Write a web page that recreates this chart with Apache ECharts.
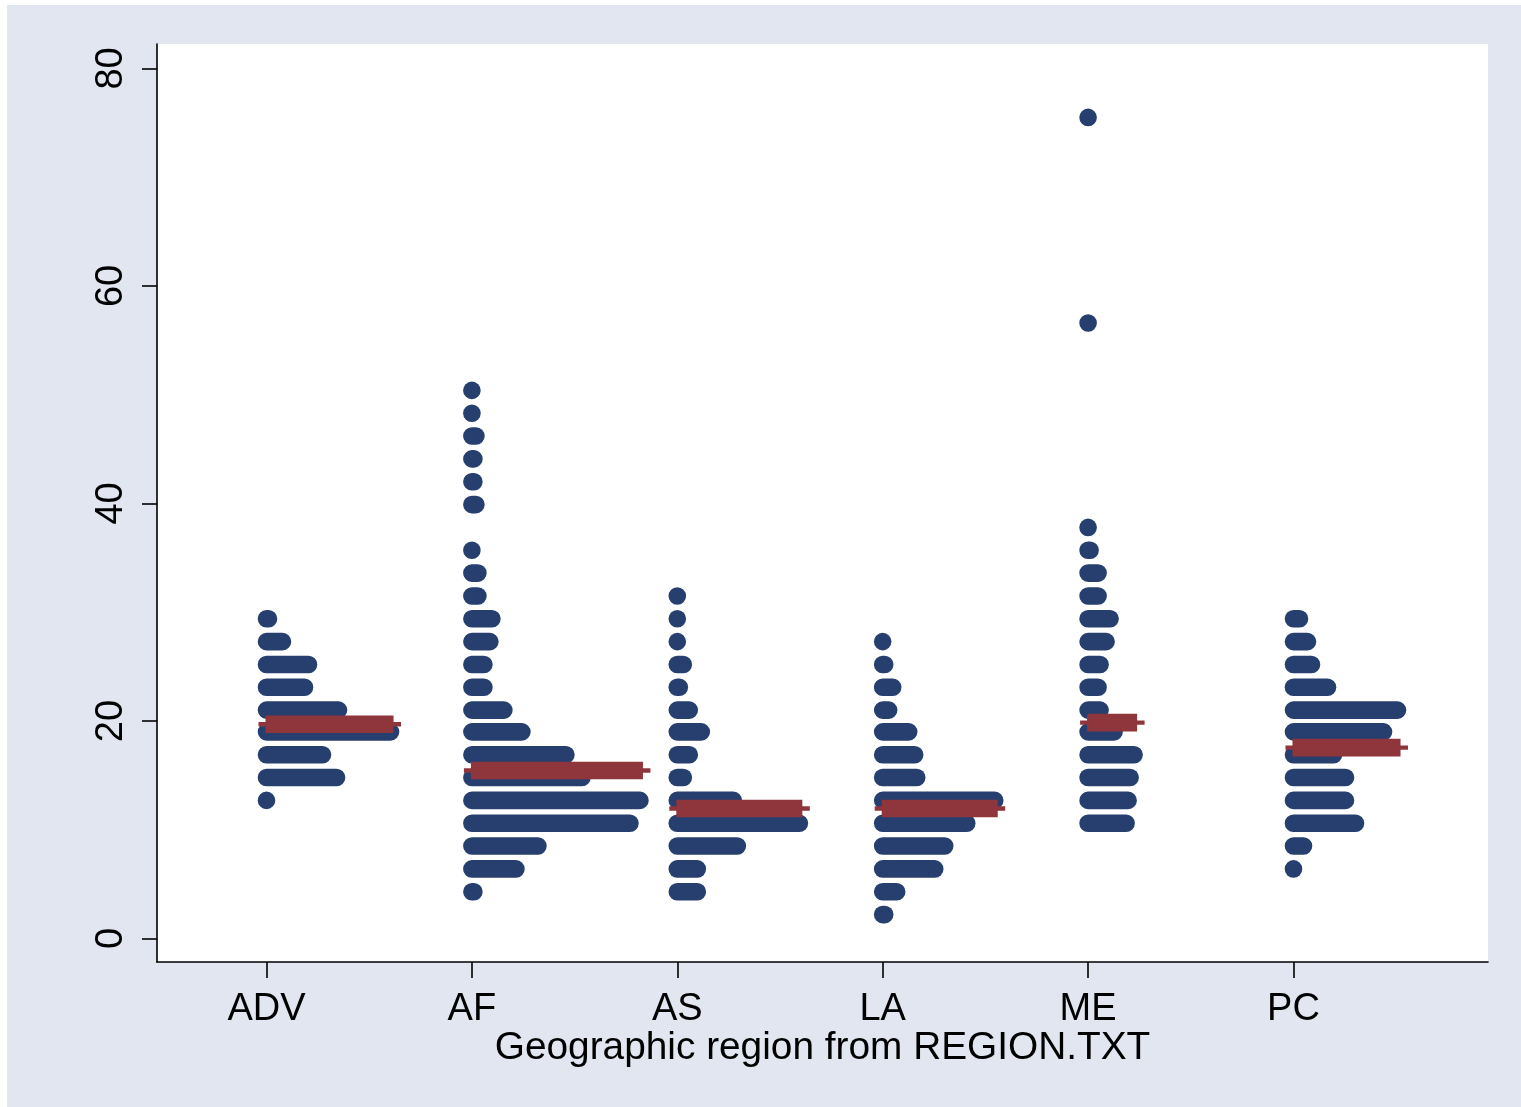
<!DOCTYPE html>
<html>
<head>
<meta charset="utf-8">
<script src="https://cdn.jsdelivr.net/npm/echarts@6/dist/echarts.min.js"></script>
<style>
  html, body { margin: 0; padding: 0; background: #ffffff; }
  #chart { position: absolute; left: 7px; top: 5px; width: 1514px; height: 1102px; }
</style>
</head>
<body>
<div id="chart"></div>
<script>
// ---- data ----
const categories = ['ADV', 'AF', 'AS', 'LA', 'ME', 'PC'];
const yTicks = [0, 20, 40, 60, 80];
const xTitle = 'Geographic region from REGION.TXT';

// dot rows: bin value and number of dots in that bin
const advValues = [12.7, 14.8, 16.9, 19.0, 21.0, 23.1, 25.2, 27.3, 29.4];
const advCounts = [1, 36, 29, 63, 37, 20, 22, 9, 2];

const afValues = [4.3, 6.4, 8.5, 10.6, 12.7, 14.8, 16.9, 19.0, 21.0, 23.1, 25.2, 27.3, 29.4, 31.5, 33.6, 35.7, 39.9, 42.0, 44.1, 46.2, 48.3, 50.4];
const afCounts = [2, 23, 34, 80, 85, 56, 48, 26, 17, 7, 7, 10, 11, 4, 4, 1, 3, 2, 2, 3, 1, 1];

const asValues = [4.3, 6.4, 8.5, 10.6, 12.7, 14.8, 16.9, 19.0, 21.0, 23.1, 25.2, 27.3, 29.4, 31.5];
const asCounts = [11, 11, 31, 62, 29, 4, 7, 13, 7, 2, 4, 1, 1, 1];

const laValues = [2.2, 4.3, 6.4, 8.5, 10.6, 12.7, 14.8, 16.9, 19.0, 21.0, 23.1, 25.2, 27.3];
const laCounts = [2, 8, 27, 32, 43, 57, 18, 17, 14, 4, 6, 2, 1];

const meValues = [10.6, 12.7, 14.8, 16.9, 19.0, 21.0, 23.1, 25.2, 27.3, 29.4, 31.5, 33.6, 35.7, 37.8, 56.6, 75.5];
const meCounts = [20, 21, 22, 24, 14, 7, 6, 7, 10, 12, 6, 6, 2, 1, 1, 1];

const pcValues = [6.4, 8.5, 10.6, 12.7, 14.8, 16.9, 19.0, 21.0, 23.1, 25.2, 27.3, 29.4];
const pcCounts = [1, 6, 32, 27, 27, 21, 46, 53, 18, 10, 8, 4];

// median of each region
const medians = [19.7, 15.45, 11.95, 11.95, 19.85, 17.55];

// ---- build ----
const groups = [
  [advValues, advCounts], [afValues, afCounts], [asValues, asCounts],
  [laValues, laCounts], [meValues, meCounts], [pcValues, pcCounts]
];
const STEP = 0.00974;   // x-axis units between stacked dots
const R = 8.8;          // dot radius (px)
const NAVY = '#263F6E';
const MAROON = '#8F353C';
const FONT = '"Liberation Sans", Arial, sans-serif';

const dotData = [];
const maxCounts = [];
groups.forEach(function (g, i) {
  let m = 0;
  g[0].forEach(function (v, j) {
    dotData.push([i + 1, v, g[1][j]]);
    if (g[1][j] > m) m = g[1][j];
  });
  maxCounts.push(m);
});
const medData = medians.map(function (v, i) { return [i + 1, v, maxCounts[i]]; });

const chart = echarts.init(document.getElementById('chart'), null, { renderer: 'canvas' });
chart.setOption({
  backgroundColor: '#E1E6F0',
  animation: false,
  grid: {
    left: 150, top: 39, right: 33, bottom: 145,
    show: true, backgroundColor: '#ffffff', borderWidth: 0
  },
  xAxis: {
    type: 'value', min: 0.4669, max: 6.947,
    splitLine: { show: false },
    axisLine: { show: true, onZero: false, lineStyle: { color: '#000', width: 1.6 } },
    axisTick: { show: true, customValues: [1, 2, 3, 4, 5, 6], length: 16, lineStyle: { color: '#000', width: 1.6 } },
    axisLabel: {
      customValues: [1, 2, 3, 4, 5, 6],
      formatter: function (v) { return categories[Math.round(v) - 1]; },
      color: '#000', fontFamily: FONT, fontSize: 38, margin: 29
    },
    name: xTitle, nameLocation: 'middle', nameGap: 67, nameMoveOverlap: false,
    nameTextStyle: { color: '#000', fontFamily: FONT, fontSize: 38.8, verticalAlign: 'top' }
  },
  yAxis: {
    type: 'value', min: -2.16, max: 82.25,
    splitLine: { show: false },
    axisLine: { show: true, onZero: false, lineStyle: { color: '#000', width: 1.6 } },
    axisTick: { show: true, customValues: yTicks, length: 15, lineStyle: { color: '#000', width: 1.6 } },
    axisLabel: {
      customValues: yTicks, rotate: 90,
      color: '#000', fontFamily: FONT, fontSize: 38, margin: 26
    }
  },
  series: [
    {
      type: 'custom',
      data: dotData,
      renderItem: function (params, api) {
        const p0 = api.coord([api.value(0), api.value(1)]);
        const p1 = api.coord([api.value(0) + (api.value(2) - 1) * STEP, api.value(1)]);
        return {
          type: 'rect',
          shape: { x: p0[0] - R, y: p0[1] - R, width: p1[0] - p0[0] + 2 * R, height: 2 * R, r: R },
          style: { fill: NAVY }
        };
      }
    },
    {
      type: 'custom',
      data: medData,
      z: 5,
      renderItem: function (params, api) {
        const p0 = api.coord([api.value(0), api.value(1)]);
        const p1 = api.coord([api.value(0) + (api.value(2) - 1) * STEP, api.value(1)]);
        return {
          type: 'group',
          children: [
            { type: 'rect', shape: { x: p0[0] - 8, y: p0[1] - 2.2, width: p1[0] - p0[0] + 18.5, height: 4.4 }, style: { fill: MAROON } },
            { type: 'rect', shape: { x: p0[0] - 1, y: p0[1] - 8.8, width: p1[0] - p0[0] + 4, height: 17.6 }, style: { fill: MAROON } }
          ]
        };
      }
    }
  ]
});
</script>
</body>
</html>
